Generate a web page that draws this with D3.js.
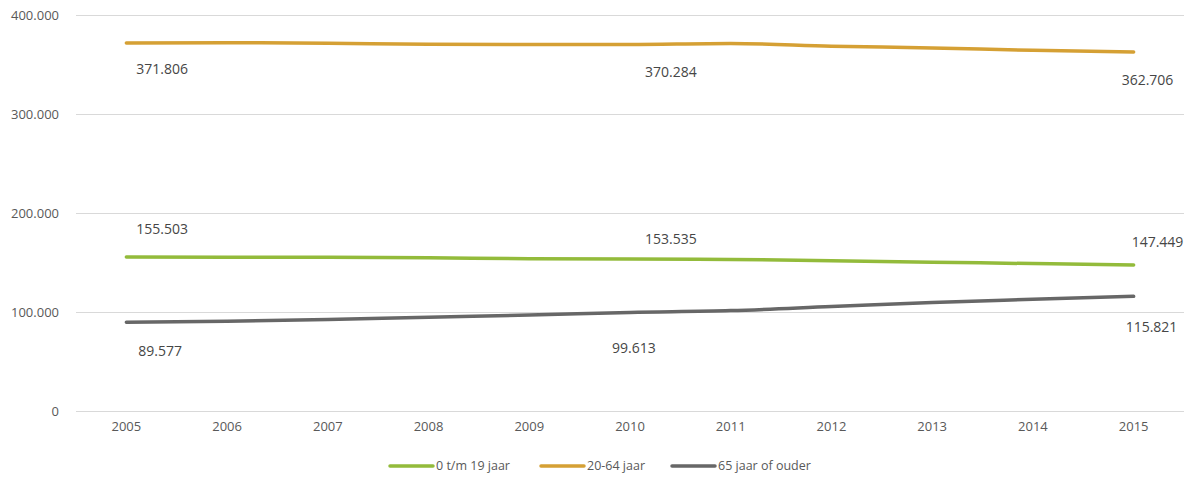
<!DOCTYPE html>
<html lang="nl">
<head>
  <meta charset="UTF-8">
  <title>Bevolking naar leeftijd</title>
  <script src="https://cdn.jsdelivr.net/npm/d3@7"></script>
  <style>
    body{ margin:0; padding:0; background:#fff; }
    .grid line{ stroke:#d9d9d9; stroke-width:1; }
    .grid path{ display:none; }
    .yAxis text, .xAxis text{ fill:#595959; font-size:13px; font-family:"Open Sans", "DejaVu Sans", sans-serif; }
    .yAxis path, .yAxis line, .xAxis path, .xAxis line{ display:none; }
    .lbl{ fill:#464646; font-size:14px; font-family:"Open Sans", "DejaVu Sans", sans-serif; }
    .legend text{ fill:#595959; font-size:12.5px; font-family:"Open Sans", "DejaVu Sans", sans-serif; }
  </style>
</head>
<body>
<div id="chart"></div>
<script>
// data
let years = ["2005","2006","2007","2008","2009","2010","2011","2012","2013","2014","2015"];
let young = [155503,155400,155300,154700,153800,153535,153100,151700,150300,148900,147449];
let adult = [371806,371900,371500,370400,370100,370284,371300,368500,366700,364300,362706];
let old   = [89577,90700,92400,94800,97000,99613,101400,105500,109600,112800,115821];
let yTicks = [0,100000,200000,300000,400000];
let names = ["0 t/m 19 jaar","20-64 jaar","65 jaar of ouder"];

let colors = ["#93bb3b","#d5a034","#676767"];
let series = [young, adult, old];

let width = 1198, height = 477;
let margin = {top:15, right:14, bottom:66, left:76};
let w = width - margin.left - margin.right,
    h = height - margin.top - margin.bottom;

let svg = d3.select("#chart").append("svg")
    .attr("width", width).attr("height", height)
  .append("g")
    .attr("transform","translate(" + margin.left + "," + margin.top + ")");

let x = d3.scaleBand().domain(years).range([0, w]);
let y = d3.scaleLinear().domain([0,400000]).range([h, 0]);
let cx = function(d){ return x(d) + x.bandwidth()/2; };

// gridlines
svg.append("g").attr("class","grid")
  .call(d3.axisLeft(y).tickValues(yTicks).tickSize(-w).tickFormat(""));

let fmt = function(v){ return d3.format(",")(v).replace(/,/g, "."); };

svg.append("g").attr("class","yAxis")
  .attr("transform","translate(-14,0)")
  .call(d3.axisLeft(y).tickValues(yTicks).tickSize(0).tickFormat(fmt));

svg.append("g").attr("class","xAxis")
  .attr("transform","translate(0," + (h + 8) + ")")
  .call(d3.axisBottom(x).tickSize(0));

let line = d3.line()
  .x(function(d,i){ return cx(years[i]); })
  .y(function(d){ return y(d); })
  .curve(d3.curveMonotoneX);

series.forEach(function(s, k){
  svg.append("path").datum(s)
    .attr("fill","none")
    .attr("stroke", colors[k])
    .attr("stroke-width", 3.5)
    .attr("stroke-linecap","round")
    .attr("d", line);
});

// data labels at 2005, 2010, 2015 (offsets from the point, per series)
let labelIdx = [0,5,10];
let labelDx = [[10,15,-2], [10,15,-12], [12,-18,-8]];
let labelDy = [[-28,-20,-23], [26,28,28], [29,36,31]];
series.forEach(function(s, k){
  labelIdx.forEach(function(i, j){
    svg.append("text").attr("class","lbl")
      .attr("x", cx(years[i]) + labelDx[k][j])
      .attr("y", y(s[i]) + labelDy[k][j])
      .attr("dy","0.35em")
      .text(fmt(s[i]));
  });
});

// legend
let legX = [314, 465, 596];
let leg = svg.append("g").attr("class","legend")
  .attr("transform","translate(0," + (h + 55) + ")");
names.forEach(function(n, k){
  leg.append("line")
    .attr("x1", legX[k]).attr("x2", legX[k] + 43)
    .attr("stroke", colors[k]).attr("stroke-width", 3.5)
    .attr("stroke-linecap","round");
  leg.append("text")
    .attr("x", legX[k] + 46).attr("dy","0.35em")
    .text(n);
});
</script>
</body>
</html>
